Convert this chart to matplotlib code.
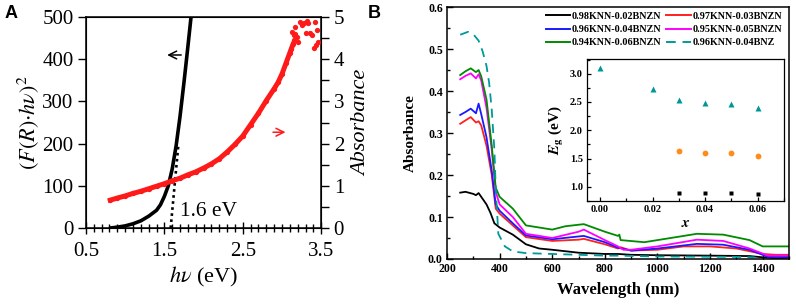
import matplotlib
matplotlib.use("Agg")
import matplotlib.pyplot as plt
from matplotlib.ticker import MultipleLocator, FixedLocator

plt.rcParams['font.family'] = ['Liberation Serif', 'DejaVu Serif']
plt.rcParams['mathtext.fontset'] = 'stix'

# ---------------- Panel A data ----------------
hv_black = [0.81, 0.9, 1.0, 1.1, 1.2, 1.3, 1.4, 1.45, 1.5, 1.55, 1.6, 1.65, 1.7, 1.75, 1.8, 1.84]
frhv2 = [0, 2, 5, 10, 17, 28, 42, 55, 75, 100, 140, 195, 265, 345, 430, 500]
tangent_hv = [1.58, 1.68]
tangent_val = [0, 200]

hv_red = [0.81, 0.9, 1.0, 1.1, 1.2, 1.3, 1.4, 1.5, 1.6, 1.7, 1.8, 1.9, 2.0, 2.1, 2.2, 2.3,
          2.4, 2.5, 2.6, 2.7, 2.8, 2.9, 2.95, 3.0, 3.05, 3.1, 3.12, 3.14]
abs_red = [0.66, 0.71, 0.76, 0.82, 0.87, 0.93, 0.99, 1.05, 1.12, 1.18, 1.26, 1.33, 1.42, 1.52,
           1.64, 1.8, 1.98, 2.18, 2.45, 2.72, 3.02, 3.3, 3.45, 3.65, 3.9, 4.15, 4.25, 4.35]
hv_scatter = [3.126, 3.147, 3.168, 3.19, 3.21, 3.232, 3.254, 3.283, 3.318, 3.338, 3.36, 3.381,
              3.402, 3.423, 3.445, 3.453, 3.436, 3.309, 3.15, 3.16]
abs_scatter = [4.65, 4.57, 4.77, 4.53, 4.41, 4.89, 4.81, 4.85, 4.91, 4.85, 4.63, 4.57,
               4.26, 4.89, 4.69, 4.41, 4.34, 4.61, 4.45, 4.6]

# ---------------- Panel B data ----------------
wl_black = [250, 270, 300, 310, 320, 330, 350, 365, 380, 400, 450, 500, 550, 600, 700, 800, 850,
            900, 1000, 1200, 1350, 1400, 1450, 1500]
a_black = [0.158, 0.160, 0.155, 0.152, 0.157, 0.148, 0.130, 0.110, 0.085, 0.075, 0.058, 0.035,
           0.025, 0.022, 0.015, 0.012, 0.012, 0.010, 0.009, 0.008, 0.007, 0.004, 0.002, 0.003]

wl_red = [250, 270, 290, 310, 320, 330, 350, 370, 385, 400, 450, 500, 600, 700, 720, 800, 850,
          860, 900, 1000, 1100, 1200, 1300, 1400, 1450, 1500]
a_red = [0.322, 0.330, 0.338, 0.325, 0.328, 0.318, 0.270, 0.200, 0.120, 0.108, 0.080, 0.052,
         0.043, 0.046, 0.048, 0.035, 0.025, 0.028, 0.020, 0.022, 0.030, 0.030, 0.025, 0.012,
         0.010, 0.010]

wl_blue = [250, 270, 290, 310, 320, 330, 350, 370, 385, 400, 450, 500, 600, 720, 800, 850, 900,
           1000, 1150, 1250, 1350, 1420, 1500]
a_blue = [0.343, 0.350, 0.358, 0.347, 0.370, 0.345, 0.290, 0.210, 0.130, 0.115, 0.085, 0.056,
          0.047, 0.055, 0.040, 0.027, 0.020, 0.025, 0.036, 0.034, 0.022, 0.005, 0.005]

wl_mag = [250, 270, 290, 310, 320, 330, 350, 370, 385, 400, 450, 500, 600, 700, 720, 800, 850,
          870, 900, 1000, 1150, 1250, 1350, 1420, 1500]
a_mag = [0.428, 0.436, 0.442, 0.430, 0.440, 0.425, 0.360, 0.260, 0.160, 0.130, 0.100, 0.060,
         0.050, 0.065, 0.070, 0.045, 0.030, 0.022, 0.022, 0.030, 0.046, 0.043, 0.025, 0.008, 0.008]

wl_green = [250, 270, 290, 310, 320, 330, 350, 370, 385, 400, 450, 500, 600, 650, 720, 800, 850,
            855, 860, 950, 1050, 1150, 1250, 1350, 1400, 1500]
a_green = [0.438, 0.447, 0.454, 0.445, 0.450, 0.435, 0.380, 0.270, 0.170, 0.148, 0.120, 0.080,
           0.070, 0.078, 0.083, 0.065, 0.055, 0.058, 0.045, 0.040, 0.050, 0.060, 0.058, 0.045,
           0.030, 0.030]

wl_teal = [250, 280, 300, 320, 335, 350, 360, 370, 380, 385, 395, 420, 450, 500, 800, 850, 1000,
           1300, 1370]
a_teal = [0.534, 0.541, 0.535, 0.520, 0.495, 0.460, 0.420, 0.355, 0.260, 0.170, 0.060, 0.030,
          0.018, 0.014, 0.008, 0.008, 0.006, 0.005, 0.004]

labels = ['0.98KNN-0.02BNZN', '0.97KNN-0.03BNZN', '0.96KNN-0.04BNZN', '0.95KNN-0.05BNZN',
          '0.94KNN-0.06BNZN', '0.96KNN-0.04BNZ']

# inset data
x_tri = [0.00, 0.02, 0.03, 0.04, 0.05, 0.06]
eg_tri = [3.10, 2.73, 2.53, 2.48, 2.46, 2.39]
x_circ = [0.03, 0.04, 0.05, 0.06]
eg_circ = [1.63, 1.60, 1.60, 1.54]
x_sq = [0.03, 0.04, 0.05, 0.06]
eg_sq = [0.90, 0.90, 0.90, 0.87]

fig = plt.figure(figsize=(7.96, 3.06), dpi=100)

# ================= Panel A =================
axA = fig.add_axes([0.108, 0.2549, 0.2955, 0.6895])
axA.plot(hv_black, frhv2, color='black', lw=2.6, solid_capstyle='round')
axA.plot(tangent_hv, tangent_val, color='black', lw=1.9, ls=(0, (1, 1.3)))
axA.set_xlim(0.5, 3.5)
axA.set_ylim(0, 500)
axA.xaxis.set_major_locator(FixedLocator([0.5, 1.5, 2.5, 3.5]))
axA.xaxis.set_minor_locator(MultipleLocator(0.1))
axA.yaxis.set_major_locator(MultipleLocator(100))
axA.tick_params(axis='x', which='major', direction='inout', length=8, width=1, labelsize=15, pad=6)
axA.tick_params(axis='x', which='minor', direction='inout', length=6, width=1)
axA.tick_params(axis='y', which='major', direction='out', length=6, width=1, labelsize=15, pad=3)
for s in axA.spines.values():
    s.set_linewidth(1.1)
axA.set_xlabel(r'$h\nu$ (eV)', fontsize=16, labelpad=3)
axA.set_ylabel(r'$(F(R){\cdot}h\nu)^2$', fontsize=16, labelpad=1)
axA.text(1.70, 38, '1.6 eV', fontsize=15.5, va='center', ha='left')
axA.annotate('', xy=(1.50, 410), xytext=(1.75, 410),
             arrowprops=dict(arrowstyle='->', color='black', lw=1.1, mutation_scale=14))

axA2 = axA.twinx()
axA2.plot(hv_red, abs_red, color='#ff1a1a', lw=3.6, marker='o', ms=3.8, mec='none')
axA2.plot(hv_scatter, abs_scatter, ls='none', color='#ff1a1a', marker='o', ms=3.8, mec='none')
axA2.set_ylim(0, 5)
axA2.yaxis.set_major_locator(MultipleLocator(1))
axA2.yaxis.set_minor_locator(MultipleLocator(0.5))
axA2.tick_params(axis='y', which='major', direction='out', length=6, width=1, labelsize=15, pad=3)
axA2.tick_params(axis='y', which='minor', direction='out', length=6, width=1)
axA2.set_ylabel('Absorbance', fontsize=16, style='italic', rotation=90, labelpad=6)
axA2.annotate('', xy=(3.08, 2.27), xytext=(2.85, 2.27),
              arrowprops=dict(arrowstyle='->', color='#ff1a1a', lw=1.1, mutation_scale=14))

fig.text(0.006, 0.955, 'A', fontsize=13, fontweight='bold', family='Liberation Sans', va='center')
fig.text(0.462, 0.955, 'B', fontsize=13, fontweight='bold', family='Liberation Sans', va='center')

# ================= Panel B =================
axB = fig.add_axes([0.5616, 0.1536, 0.4296, 0.8234])
lw = 1.3
axB.plot(wl_black, a_black, color='black', lw=lw, label=labels[0])
axB.plot(wl_red, a_red, color='#ff2020', lw=lw, label=labels[1])
axB.plot(wl_blue, a_blue, color='#1a1aff', lw=lw, label=labels[2])
axB.plot(wl_mag, a_mag, color='#ff00ff', lw=lw, label=labels[3])
axB.plot(wl_green, a_green, color='#008a00', lw=lw, label=labels[4])
axB.plot(wl_teal, a_teal, color='#00999a', lw=lw, ls=(0, (5, 3.5)), label=labels[5])
axB.set_xlim(200, 1500)
axB.set_ylim(0, 0.6)
axB.xaxis.set_major_locator(MultipleLocator(200))
axB.xaxis.set_minor_locator(MultipleLocator(100))
axB.yaxis.set_major_locator(MultipleLocator(0.1))
axB.yaxis.set_minor_locator(MultipleLocator(0.05))
axB.tick_params(which='major', direction='in', length=4, width=1, labelsize=8.5, pad=3)
axB.tick_params(which='minor', direction='in', length=2.5, width=1)
for lab in axB.get_xticklabels() + axB.get_yticklabels():
    lab.set_fontweight('bold')
axB.yaxis.set_major_formatter(matplotlib.ticker.FormatStrFormatter('%.1f'))
for s in axB.spines.values():
    s.set_linewidth(1.1)
axB.set_xlabel('Wavelength (nm)', fontsize=12, fontweight='bold', labelpad=5)
axB.set_ylabel('Absorbance', fontsize=11, fontweight='bold', labelpad=8)

handles, labs = axB.get_legend_handles_labels()
order = [0, 2, 4, 1, 3, 5]
leg = axB.legend([handles[i] for i in order], [labs[i] for i in order], ncol=2,
                 loc='upper right', bbox_to_anchor=(1.0, 1.01), frameon=False,
                 prop={'weight': 'bold', 'size': 7.3}, handlelength=2.4, handletextpad=0.15,
                 columnspacing=0.5, labelspacing=0.42, borderaxespad=0.3)
for h in leg.get_lines():
    h.set_linewidth(1.4)

# inset
axI = fig.add_axes([0.7374, 0.3431, 0.2475, 0.4641])
axI.plot(x_tri, eg_tri, ls='none', marker='^', ms=4.5, color='#009696', mec='none')
axI.plot(x_circ, eg_circ, ls='none', marker='o', ms=4.2, color='#ff8c1a', mec='none')
axI.plot(x_sq, eg_sq, ls='none', marker='s', ms=3.4, color='black', mec='none')
axI.set_xlim(-0.005, 0.07)
axI.set_ylim(0.75, 3.26)
axI.xaxis.set_major_locator(MultipleLocator(0.02))
axI.xaxis.set_minor_locator(MultipleLocator(0.01))
axI.yaxis.set_major_locator(MultipleLocator(0.5))
axI.yaxis.set_minor_locator(MultipleLocator(0.25))
axI.tick_params(which='major', direction='in', length=3, width=0.9, labelsize=7.5, pad=3)
axI.tick_params(which='minor', direction='in', length=2, width=0.9)
axI.xaxis.set_major_formatter(matplotlib.ticker.FormatStrFormatter('%.2f'))
axI.yaxis.set_major_formatter(matplotlib.ticker.FormatStrFormatter('%.1f'))
for lab in axI.get_xticklabels() + axI.get_yticklabels():
    lab.set_fontweight('bold')
for s in axI.spines.values():
    s.set_linewidth(0.9)
axI.set_xlabel(r'$\mathbfit{x}$', fontsize=11, labelpad=2)
axI.set_ylabel(r'$\mathbfit{E}_\mathbf{g}$ (eV)', fontsize=11, fontweight='bold', labelpad=3)

fig.savefig('out.png', dpi=100)
